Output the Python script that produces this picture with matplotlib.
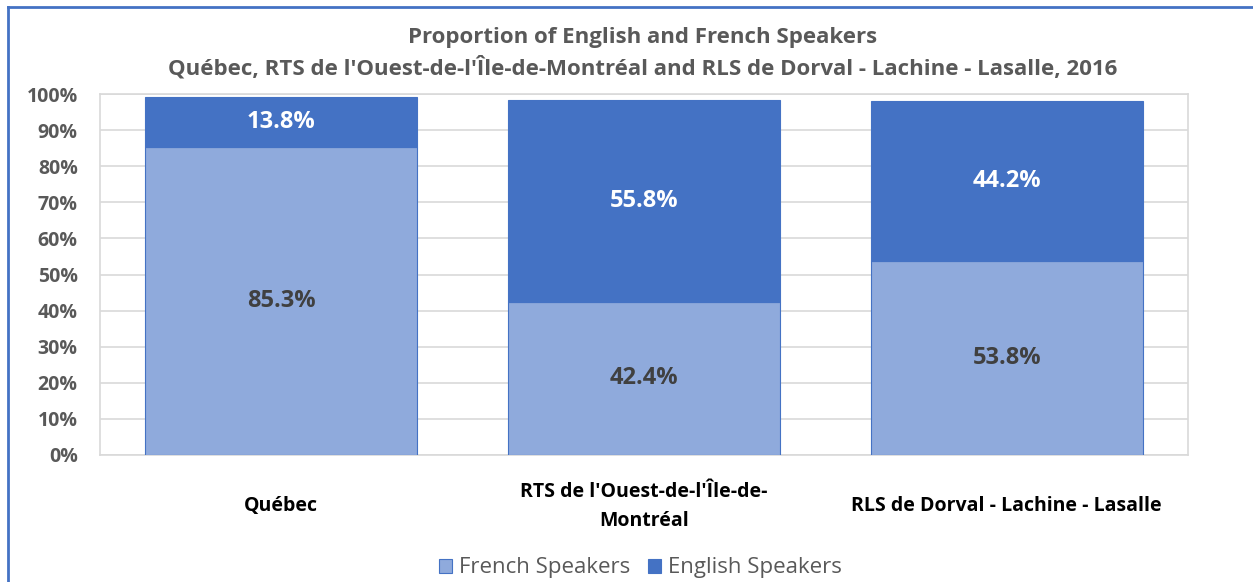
import matplotlib
matplotlib.use("Agg")
import matplotlib.pyplot as plt
from matplotlib.lines import Line2D
from matplotlib.patches import Patch
import numpy as np

categories = ["Québec", "RTS de l'Ouest-de-l'Île-de-\nMontréal", "RLS de Dorval - Lachine - Lasalle"]
french = [85.3, 42.4, 53.8]
english = [13.8, 55.8, 44.2]
yticks = [0, 10, 20, 30, 40, 50, 60, 70, 80, 90, 100]
title = "Proportion of English and French Speakers\nQuébec, RTS de l'Ouest-de-l'Île-de-Montréal and RLS de Dorval - Lachine - Lasalle, 2016"

FR_C = "#8FAADC"
EN_C = "#4472C4"
GRAY = "#595959"

plt.rcParams['font.family'] = ['Open Sans', 'DejaVu Sans']

W, H = 1253, 582
fig = plt.figure(figsize=(W / 100, H / 100), dpi=100)
ax = fig.add_axes([100 / W, 1 - 455 / H, (1188 - 100) / W, (455 - 94) / H])

x = np.arange(len(categories))
ax.bar(x, french, width=0.75, color=FR_C, edgecolor=EN_C, linewidth=0.8, zorder=3)
ax.bar(x, english, width=0.75, bottom=french, color=EN_C, edgecolor=EN_C, linewidth=0.8, zorder=3)

for i in range(len(categories)):
    ax.text(x[i], french[i] / 2, f"{french[i]:.1f}%", ha='center', va='center',
            fontsize=17, fontweight='bold', color="#404040", zorder=4)
    ax.text(x[i], french[i] + english[i] / 2, f"{english[i]:.1f}%", ha='center', va='center',
            fontsize=17, fontweight='bold', color="white", zorder=4)

ax.set_xlim(-0.5, len(categories) - 0.5)
ax.set_ylim(0, 100)
ax.set_yticks(yticks)
ax.set_yticklabels([f"{v}%" for v in yticks], fontsize=14, fontweight='bold', color=GRAY)
ax.set_xticks(x)
ax.set_xticklabels(categories, fontsize=14, fontweight='bold', color='black', linespacing=1.55,
                   va='center')
ax.tick_params(axis='both', length=0)
ax.tick_params(axis='y', pad=16)
ax.tick_params(axis='x', pad=37)
ax.grid(axis='y', color="#D9D9D9", linewidth=1.2, zorder=0)
for s in ax.spines.values():
    s.set_color("#D9D9D9")
    s.set_linewidth(1.2)

fig.text(643 / W, 1 - 53 / H, title, ha='center', va='center',
         fontsize=16, fontweight='bold', color=GRAY, linespacing=1.45)

handles = [Patch(facecolor=FR_C, edgecolor=EN_C, linewidth=0.8, label="French Speakers"),
           Patch(facecolor=EN_C, edgecolor=EN_C, linewidth=0.8, label="English Speakers")]
fig.legend(handles=handles, loc='center', bbox_to_anchor=(640 / W, 1 - 568 / H), ncol=2,
           frameon=False, fontsize=16, labelcolor=GRAY, handlelength=0.6, handleheight=0.6,
           handletextpad=0.3, columnspacing=0.8)

# screenshot border (left and top)
fig.add_artist(Line2D([8 / W, 8 / W], [0, 1 - 7 / H], color=EN_C, linewidth=2, transform=fig.transFigure))
fig.add_artist(Line2D([8 / W, 1], [1 - 7 / H, 1 - 7 / H], color=EN_C, linewidth=2, transform=fig.transFigure))

fig.savefig("out.png", dpi=100, facecolor='white')
